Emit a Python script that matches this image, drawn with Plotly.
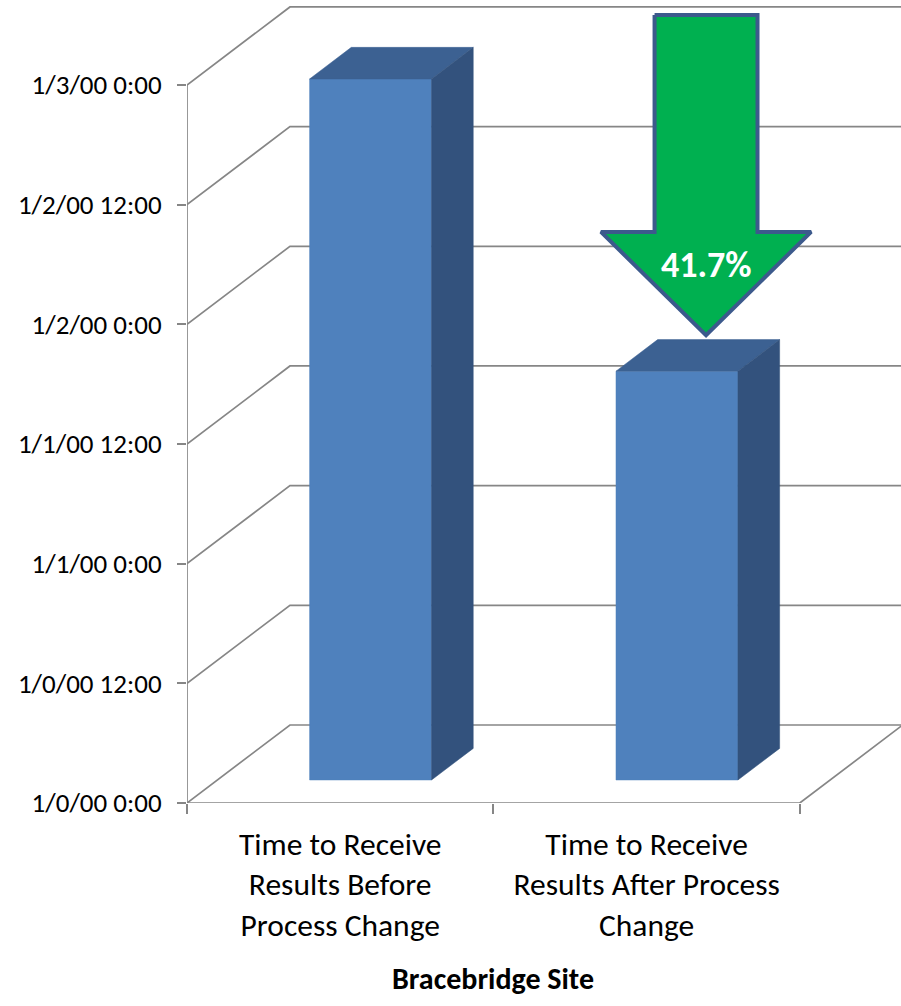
import plotly.graph_objects as go

# ---- data -------------------------------------------------------------
categories = [
    "Time to Receive<br>Results Before<br>Process Change",
    "Time to Receive<br>Results After Process<br>Change",
]
# turnaround time in days, counted from the 1/0/00 0:00 origin
turnaround_days = [2.929, 1.708]

y_tick_vals = [0, 0.5, 1, 1.5, 2, 2.5, 3]
y_tick_text = [
    "1/0/00 0:00", "1/0/00 12:00", "1/1/00 0:00", "1/1/00 12:00",
    "1/2/00 0:00", "1/2/00 12:00", "1/3/00 0:00",
]
x_title = "Bracebridge Site"

# ---- styling ----------------------------------------------------------
FONT = "Calibri, Carlito, Lato, sans-serif"
GRID = "#868686"
FRONT = "#4F81BD"
TOP = "#3C6192"
SIDE = "#33527D"
ARROW_FILL = "#00B050"
ARROW_EDGE = "#3C5A8C"

# oblique depth vector of the 3-D box (axis units)
DX, DY = 0.336, 0.326
HALF_W = 0.199          # half width of a column (category units)
Z0, Z1 = 0.295, 0.70    # front / back depth of the columns


def proj(x, y, z):
    return x + z * DX, y + z * DY


def poly(points):
    xs, ys = zip(*[proj(*p) for p in points])
    return list(xs) + [xs[0]], list(ys) + [ys[0]]


fig = go.Figure()

# side wall + back wall gridlines
gx, gy = [], []
for v in y_tick_vals:
    for p in [(0, v, 0), (0, v, 1), (len(categories), v, 1)]:
        x, y = proj(*p)
        gx.append(x)
        gy.append(y)
    gx.append(None)
    gy.append(None)
fig.add_trace(go.Scatter(x=gx, y=gy, mode="lines",
                         line=dict(color=GRID, width=1.7), hoverinfo="skip"))

# floor edges and the value axis line
fx, fy = [], []
for p in [(0, y_tick_vals[-1], 0), (0, 0, 0), (len(categories), 0, 0),
          (len(categories), 0, 1)]:
    x, y = proj(*p)
    fx.append(x)
    fy.append(y)
fig.add_trace(go.Scatter(x=fx, y=fy, mode="lines",
                         line=dict(color=GRID, width=1.7), hoverinfo="skip"))

# 3-D columns: front, top and right side faces
for i, v in enumerate(turnaround_days):
    c = i + 0.5
    l, r = c - HALF_W, c + HALF_W
    faces = [
        ([(l, 0, Z0), (r, 0, Z0), (r, v, Z0), (l, v, Z0)], FRONT),
        ([(l, v, Z0), (r, v, Z0), (r, v, Z1), (l, v, Z1)], TOP),
        ([(r, 0, Z0), (r, 0, Z1), (r, v, Z1), (r, v, Z0)], SIDE),
    ]
    for pts, col in faces:
        xs, ys = poly(pts)
        fig.add_trace(go.Scatter(x=xs, y=ys, mode="lines", fill="toself",
                                 fillcolor=col, line=dict(color=col, width=0.5),
                                 hoverinfo="skip"))

# callout arrow showing the reduction between the two columns
reduction = (1 - turnaround_days[1] / turnaround_days[0]) * 100
ax_c = 1.694
shaft_hw, head_hw = 0.168, 0.343
shaft_top, head_y, tip_y = 3.292, 2.386, 1.955
arrow_x = [ax_c - shaft_hw, ax_c + shaft_hw, ax_c + shaft_hw, ax_c + head_hw,
           ax_c, ax_c - head_hw, ax_c - shaft_hw, ax_c - shaft_hw]
arrow_y = [shaft_top, shaft_top, head_y, head_y, tip_y, head_y, head_y, shaft_top]
fig.add_trace(go.Scatter(x=arrow_x, y=arrow_y, mode="lines", fill="toself",
                         fillcolor=ARROW_FILL,
                         line=dict(color=ARROW_EDGE, width=4),
                         hoverinfo="skip"))
fig.add_annotation(x=ax_c, y=2.248, text=f"<b>{reduction:.1f}%</b>",
                   showarrow=False,
                   font=dict(family=FONT, size=36, color="white"))

# axis title, centred under the floor of the chart
fig.add_annotation(x=len(categories) / 2, xref="x", y=-0.2196, yref="paper",
                   yanchor="middle", text=f"<b>{x_title}</b>", showarrow=False,
                   font=dict(family=FONT, size=30, color="black"))

fig.update_layout(
    width=901, height=1006,
    margin=dict(l=187, r=0, t=6, b=203),
    paper_bgcolor="white", plot_bgcolor="white",
    showlegend=False,
    font=dict(family=FONT, color="black"),
    xaxis=dict(
        range=[0, 2.3303], showgrid=False, zeroline=False, showline=False,
        tickvals=[0.5, 1.5], ticktext=categories, ticks="",
        tickfont=dict(size=31.5, family=FONT, color="black"),
        ticklabelstandoff=19,
        minor=dict(tickvals=[0, 1, 2], ticks="outside", ticklen=10,
                   tickcolor=GRID, tickwidth=1.7),
    ),
    yaxis=dict(
        range=[0, 3.33], showgrid=False, zeroline=False, showline=False,
        tickvals=y_tick_vals, ticktext=y_tick_text,
        ticks="outside", ticklen=9, tickcolor=GRID, tickwidth=1.7,
        tickfont=dict(size=27, family=FONT, color="black"),
        ticklabelstandoff=10,
    ),
)

fig.write_html("out.html", config={"displayModeBar": False})
